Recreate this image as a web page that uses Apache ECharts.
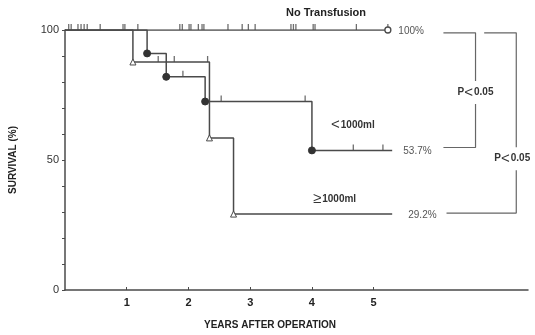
<!DOCTYPE html>
<html><head><meta charset="utf-8">
<script src="https://cdn.jsdelivr.net/npm/echarts@6/dist/echarts.min.js"></script>
<style>html,body{margin:0;padding:0;background:#fff}#c{width:535px;height:335px}</style>
</head><body><div id="c"></div>
<script>
// ---- data (years after operation, survival %) ----
const xTickLabels = [1, 2, 3, 4, 5];
const yTickLabels = [0, 50, 100];

const noTransTimes = [0, 5.23];
const noTransSurv = [100, 100];
const noTransCensorTimes = [0.06,0.10,0.21,0.26,0.31,0.36,0.57,0.94,0.97,1.18,1.86,1.90,2.01,2.04,2.16,2.22,2.25,2.64,2.87,2.97,3.08,3.66,3.70,3.74,4.02,4.05,4.72,5.23];
const noTransCensorSurv = [100,100,100,100,100,100,100,100,100,100,100,100,100,100,100,100,100,100,100,100,100,100,100,100,100,100,100,100];

const lt1000Times = [0, 1.33, 1.64, 2.27, 4.00, 5.30];
const lt1000Surv = [100, 91.0, 82.0, 72.5, 53.7, 53.7];
const lt1000CensorTimes = [1.91, 2.53, 3.89, 4.67, 5.15];
const lt1000CensorSurv = [82.0, 72.5, 72.5, 53.7, 53.7];

const ge1000Times = [0, 1.10, 2.34, 2.73, 5.30];
const ge1000Surv = [100, 87.7, 58.5, 29.2, 29.2];
const ge1000CensorTimes = [1.51, 1.77, 2.31];
const ge1000CensorSurv = [87.7, 87.7, 87.7];

const bracket1X = [6.13, 6.65, 6.65, 6.13];
const bracket1Y = [98.9, 98.9, 54.8, 54.8];
const bracket2X = [6.79, 7.31, 7.31, 6.18];
const bracket2Y = [98.9, 98.9, 29.6, 29.6];

const endLabels = ['100%', '53.7%', '29.2%'];
const curveNames = ['No Transfusion', '<1000ml', '≥1000ml'];
const pText = 'P<0.05';

// ---- build ----
const zip = (a, b) => a.map((v, i) => [v, b[i]]);
const LINE = '#4a4a4a';
function stepData(t, s, sym, size, markLast) {
  return t.map((v, i) => ({
    value: [v, s[i]],
    symbol: (i === 0 || (i === t.length - 1 && !markLast)) ? 'none' : sym,
    symbolSize: size
  }));
}
function censor(t, s) {
  return {
    type: 'scatter', data: zip(t, s), symbol: 'rect', symbolSize: [1.3, 6],
    symbolOffset: [0, -3], itemStyle: { color: LINE }, z: 3, silent: true
  };
}
const chart = echarts.init(document.getElementById('c'), null, { renderer: 'canvas' });
const option = {
  animation: false,
  backgroundColor: '#fff',
  grid: { left: 65, top: 30, width: 463, height: 260, containLabel: false },
  xAxis: {
    type: 'value', min: 0, max: 7.5,
    axisLine: { lineStyle: { color: LINE, width: 1.5 } },
    splitLine: { show: false },
    axisTick: { customValues: xTickLabels, length: 3, inside: true, lineStyle: { color: LINE } },
    axisLabel: { customValues: xTickLabels, color: '#222', fontFamily: 'Liberation Sans', fontWeight: 'bold', fontSize: 11, margin: 7 }
  },
  yAxis: {
    type: 'value', min: 0, max: 100, interval: 10,
    name: 'SURVIVAL (%)', nameLocation: 'middle', nameRotate: 90, nameGap: 47,
    nameTextStyle: { color: '#222', fontFamily: 'Liberation Sans', fontWeight: 'bold', fontSize: 10 },
    axisLine: { lineStyle: { color: LINE, width: 1.5 } },
    splitLine: { show: false },
    axisTick: { length: 3, lineStyle: { color: LINE } },
    axisLabel: { customValues: yTickLabels, color: '#333', fontFamily: 'Liberation Sans', fontSize: 11, margin: 6 }
  },
  series: [
    { type: 'line', step: 'end', data: stepData(noTransTimes, noTransSurv, 'circle', 6, true),
      lineStyle: { color: LINE, width: 1.5 }, itemStyle: { color: '#fff', borderColor: LINE, borderWidth: 1.3 }, z: 5 },
    { type: 'line', step: 'end', data: stepData(lt1000Times, lt1000Surv, 'circle', 7),
      lineStyle: { color: LINE, width: 1.5 }, itemStyle: { color: '#333', borderColor: '#333' }, z: 4 },
    { type: 'line', step: 'end', data: stepData(ge1000Times, ge1000Surv, 'triangle', 6),
      lineStyle: { color: LINE, width: 1.5 }, itemStyle: { color: '#fff', borderColor: LINE, borderWidth: 1 }, z: 4 },
    censor(noTransCensorTimes, noTransCensorSurv),
    censor(lt1000CensorTimes, lt1000CensorSurv),
    censor(ge1000CensorTimes, ge1000CensorSurv),
    { type: 'line', data: zip(bracket1X, bracket1Y), symbol: 'none', lineStyle: { color: '#666', width: 1.2 }, silent: true },
    { type: 'line', data: zip(bracket2X, bracket2Y), symbol: 'none', lineStyle: { color: '#666', width: 1.2 }, silent: true }
  ]
};
chart.setOption(option);

const px = (x, y) => chart.convertToPixel({ gridIndex: 0 }, [x, y]);
const txt = (x, y, text, opts) => Object.assign({
  type: 'text', x: x, y: y, z: 20,
  style: Object.assign({ text: text, fill: '#333', font: '10px "Liberation Sans"', align: 'left', verticalAlign: 'middle' }, opts || {})
});
const relRich = {
  lt: { fontSize: 15, fontFamily: 'Liberation Sans', fill: '#333', padding: [0, 1, 0, 0] },
  n: { fontSize: 10, fontWeight: 'bold', fontFamily: 'Liberation Sans', fill: '#333' }
};
const pA = px(6.65, 76), pB = px(7.31, 50.5);
chart.setOption({
  graphic: [
    txt(286, 13, curveNames[0], { font: 'bold 11px "Liberation Sans"', fill: '#222' }),
    txt(px(5.4, 100)[0], px(5.4, 100)[1] + 1, endLabels[0], { fill: '#555' }),
    txt(px(5.48, 53.7)[0], px(5.48, 53.7)[1] + 1, endLabels[1], { fill: '#555' }),
    txt(px(5.56, 29.2)[0], px(5.56, 29.2)[1] + 1, endLabels[2], { fill: '#555' }),
    txt(331, 125, '', { rich: relRich, text: '{lt|' + curveNames[1].charAt(0) + '}{n|' + curveNames[1].slice(1) + '}' }),
    txt(313, 199, '', { rich: relRich, text: '{lt|' + curveNames[2].charAt(0) + '}{n|' + curveNames[2].slice(1) + '}' }),
    txt(pA[0], pA[1], '', { align: 'center', rich: relRich, text: '{n|P}{lt|<}{n|0.05}', backgroundColor: '#fff', padding: [4, 1, 4, 1] }),
    txt(pB[0] - 4, pB[1], '', { align: 'center', rich: relRich, text: '{n|P}{lt|<}{n|0.05}', backgroundColor: '#fff', padding: [4, 1, 4, 1] }),
    txt(270, 325, 'YEARS AFTER OPERATION', { align: 'center', font: 'bold 10px "Liberation Sans"', fill: '#222' })
  ]
});
</script>
</body></html>
